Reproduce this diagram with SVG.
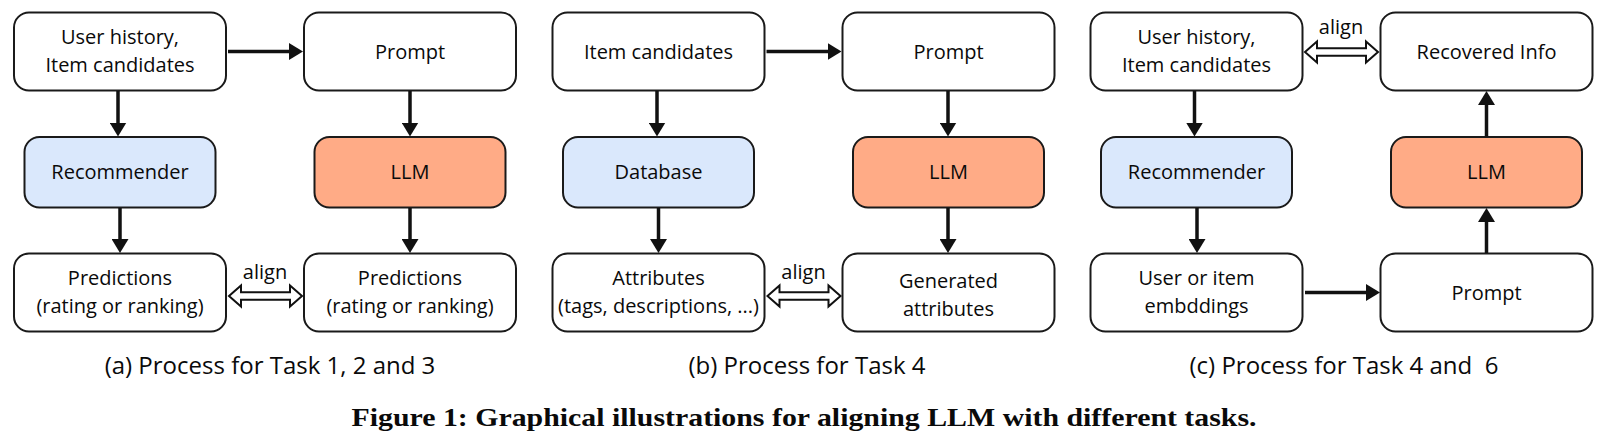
<svg xmlns="http://www.w3.org/2000/svg" width="1600" height="441" viewBox="0 0 1600 441">
<style>
.box{fill:#ffffff;stroke:#1a1a1a;stroke-width:2}
.rec{fill:#dae8fc;stroke:#1a1a1a;stroke-width:2}
.llm{fill:#ffab86;stroke:#1a1a1a;stroke-width:2}
.t{font-family:"Open Sans","Noto Sans","DejaVu Sans",sans-serif;font-size:20px;fill:#0a0a0a;text-anchor:middle}
.cap{font-family:"Open Sans","Noto Sans","DejaVu Sans",sans-serif;font-size:24px;fill:#0a0a0a;text-anchor:middle;white-space:pre}
.fig{font-family:"Liberation Serif","Times New Roman",serif;font-size:26px;font-weight:bold;fill:#0a0a0a;text-anchor:middle}
.ar{stroke:#111111;stroke-width:3.5;fill:none}
.al{fill:#ffffff;stroke:#111111;stroke-width:2;stroke-linejoin:miter}
</style>
<defs>
<marker id="ah" markerUnits="userSpaceOnUse" markerWidth="14" markerHeight="17" refX="2" refY="8.5" orient="auto">
<path d="M0,0 L14,8.5 L0,17 Z" fill="#111111"/>
</marker>
</defs>

<!-- Panel a -->
<g id="a-user"><rect class="box" x="14" y="12.5" width="212" height="78" rx="15"/><text class="t" x="120" y="43.5">User history,</text><text class="t" x="120" y="71.5">Item candidates</text></g>
<g id="a-prompt"><rect class="box" x="304" y="12.5" width="212" height="78" rx="15"/><text class="t" x="410" y="58.5">Prompt</text></g>
<g id="a-rec"><rect class="rec" x="24.5" y="137" width="191" height="70.5" rx="15"/><text class="t" x="120" y="179">Recommender</text></g>
<g id="a-llm"><rect class="llm" x="314.5" y="137" width="191" height="70.5" rx="15"/><text class="t" x="410" y="179">LLM</text></g>
<g id="a-pred1"><rect class="box" x="14" y="253.5" width="212" height="78" rx="15"/><text class="t" x="120" y="285">Predictions</text><text class="t" x="120" y="313">(rating or ranking)</text></g>
<g id="a-pred2"><rect class="box" x="304" y="253.5" width="212" height="78" rx="15"/><text class="t" x="410" y="285">Predictions</text><text class="t" x="410" y="313">(rating or ranking)</text></g>

<!-- Panel b -->
<g id="b-items"><rect class="box" x="552.5" y="12.5" width="212" height="78" rx="15"/><text class="t" x="658.5" y="58.5">Item candidates</text></g>
<g id="b-prompt"><rect class="box" x="842.5" y="12.5" width="212" height="78" rx="15"/><text class="t" x="948.5" y="58.5">Prompt</text></g>
<g id="b-db"><rect class="rec" x="563" y="137" width="191" height="70.5" rx="15"/><text class="t" x="658.5" y="179">Database</text></g>
<g id="b-llm"><rect class="llm" x="853" y="137" width="191" height="70.5" rx="15"/><text class="t" x="948.5" y="179">LLM</text></g>
<g id="b-attr"><rect class="box" x="552.5" y="253.5" width="212" height="78" rx="15"/><text class="t" x="658.5" y="285">Attributes</text><text class="t" x="658.5" y="313">(tags, descriptions, ...)</text></g>
<g id="b-gen"><rect class="box" x="842.5" y="253.5" width="212" height="78" rx="15"/><text class="t" x="948.5" y="287.5">Generated</text><text class="t" x="948.5" y="315.5">attributes</text></g>

<!-- Panel c -->
<g id="c-user"><rect class="box" x="1090.5" y="12.5" width="212" height="78" rx="15"/><text class="t" x="1196.5" y="43.5">User history,</text><text class="t" x="1196.5" y="71.5">Item candidates</text></g>
<g id="c-recovered"><rect class="box" x="1380.5" y="12.5" width="212" height="78" rx="15"/><text class="t" x="1486.5" y="58.5">Recovered Info</text></g>
<g id="c-rec"><rect class="rec" x="1101" y="137" width="191" height="70.5" rx="15"/><text class="t" x="1196.5" y="179">Recommender</text></g>
<g id="c-llm"><rect class="llm" x="1391" y="137" width="191" height="70.5" rx="15"/><text class="t" x="1486.5" y="179">LLM</text></g>
<g id="c-emb"><rect class="box" x="1090.5" y="253.5" width="212" height="78" rx="15"/><text class="t" x="1196.5" y="285">User or item</text><text class="t" x="1196.5" y="313">embddings</text></g>
<g id="c-prompt"><rect class="box" x="1380.5" y="253.5" width="212" height="78" rx="15"/><text class="t" x="1486.5" y="299.5">Prompt</text></g>

<!-- Connectors -->
<g id="connectors">
<line class="ar" x1="228" y1="51.5" x2="291" y2="51.5" marker-end="url(#ah)"/>
<line class="ar" x1="118" y1="91" x2="118" y2="124.5" marker-end="url(#ah)"/>
<line class="ar" x1="120" y1="208" x2="120" y2="241" marker-end="url(#ah)"/>
<line class="ar" x1="410" y1="91" x2="410" y2="124.5" marker-end="url(#ah)"/>
<line class="ar" x1="410" y1="208" x2="410" y2="241" marker-end="url(#ah)"/>
<polygon class="al" points="229,296 241,285.5 241,292.3 290,292.3 290,285.5 302,296 290,306.5 290,299.7 241,299.7 241,306.5"/>
<text class="t" x="265" y="279">align</text>

<line class="ar" x1="766.5" y1="51.5" x2="829.5" y2="51.5" marker-end="url(#ah)"/>
<line class="ar" x1="657" y1="91" x2="657" y2="124.5" marker-end="url(#ah)"/>
<line class="ar" x1="658.5" y1="208" x2="658.5" y2="241" marker-end="url(#ah)"/>
<line class="ar" x1="948" y1="91" x2="948" y2="124.5" marker-end="url(#ah)"/>
<line class="ar" x1="948" y1="208" x2="948" y2="241" marker-end="url(#ah)"/>
<polygon class="al" points="767.5,296 779.5,285.5 779.5,292.3 828.5,292.3 828.5,285.5 840.5,296 828.5,306.5 828.5,299.7 779.5,299.7 779.5,306.5"/>
<text class="t" x="803.5" y="279">align</text>

<line class="ar" x1="1194.5" y1="91" x2="1194.5" y2="124.5" marker-end="url(#ah)"/>
<line class="ar" x1="1197" y1="208" x2="1197" y2="241" marker-end="url(#ah)"/>
<line class="ar" x1="1486.5" y1="136.5" x2="1486.5" y2="103" marker-end="url(#ah)"/>
<line class="ar" x1="1486.5" y1="253" x2="1486.5" y2="220" marker-end="url(#ah)"/>
<line class="ar" x1="1305" y1="292.5" x2="1368" y2="292.5" marker-end="url(#ah)"/>
<polygon class="al" points="1305,52 1317,41.5 1317,48.3 1366,48.3 1366,41.5 1378,52 1366,62.5 1366,55.7 1317,55.7 1317,62.5"/>
<text class="t" x="1341" y="34">align</text>
</g>

<!-- Captions -->
<text class="cap" x="270" y="374">(a) Process for Task 1, 2 and 3</text>
<text class="cap" x="807" y="374">(b) Process for Task 4</text>
<text class="cap" x="1344" y="374">(c) Process for Task 4 and  6</text>
<text class="fig" x="804" y="426" textLength="905" lengthAdjust="spacingAndGlyphs">Figure 1: Graphical illustrations for aligning LLM with different tasks.</text>
</svg>
